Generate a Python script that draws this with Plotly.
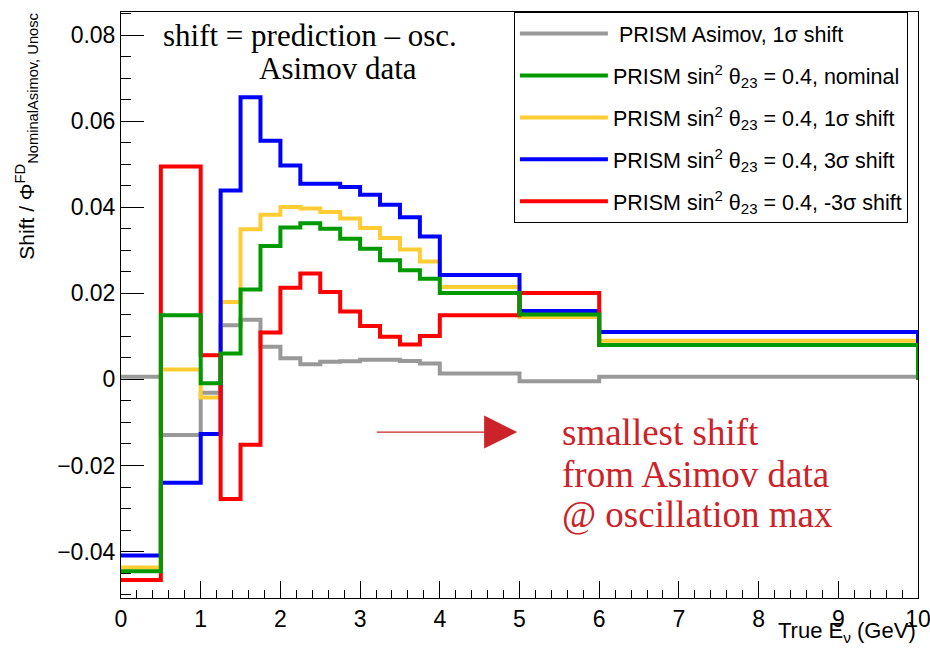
import plotly.graph_objects as go

# ---------------- data ----------------
bin_edges = [0.0, 0.5, 1.0, 1.25, 1.5, 1.75, 2.0, 2.25, 2.5, 2.75, 3.0,
             3.25, 3.5, 3.75, 4.0, 5.0, 6.0, 10.0]

asimov_1sigma = [0.0006, -0.0129, -0.0031, 0.0126, 0.0139, 0.0076, 0.0049, 0.0035,
                 0.0041, 0.0042, 0.0046, 0.0046, 0.0043, 0.0037, 0.0014, -0.0004, 0.0006]
s23_nominal = [-0.0446, 0.0149, -0.0009, 0.0060, 0.0209, 0.0310, 0.0353, 0.0363,
               0.0350, 0.0327, 0.0304, 0.0277, 0.0254, 0.0234, 0.0201, 0.0151, 0.0080]
s23_1sigma = [-0.0437, 0.0023, -0.0042, 0.0180, 0.0349, 0.0383, 0.0401, 0.0397,
              0.0389, 0.0374, 0.0352, 0.0329, 0.0302, 0.0274, 0.0215, 0.0145, 0.0090]
s23_3sigma = [-0.0409, -0.0240, -0.0127, 0.0439, 0.0656, 0.0555, 0.0497, 0.0455,
              0.0455, 0.0447, 0.0429, 0.0406, 0.0377, 0.0332, 0.0243, 0.0159, 0.0110]
s23_m3sigma = [-0.0466, 0.0495, 0.0056, -0.0278, -0.0152, 0.0109, 0.0213, 0.0246,
               0.0203, 0.0158, 0.0124, 0.0099, 0.0081, 0.0101, 0.0149, 0.0201, 0.0080]

series_names = [
    " PRISM Asimov, 1σ shift",
    "PRISM sin<sup>2</sup> θ<sub>23</sub> = 0.4, nominal",
    "PRISM sin<sup>2</sup> θ<sub>23</sub> = 0.4, 1σ shift",
    "PRISM sin<sup>2</sup> θ<sub>23</sub> = 0.4, 3σ shift",
    "PRISM sin<sup>2</sup> θ<sub>23</sub> = 0.4, -3σ shift",
]
series_values = [asimov_1sigma, s23_nominal, s23_1sigma, s23_3sigma, s23_m3sigma]
series_colors = ["#999999", "#009900", "#ffcc33", "#0000ff", "#ff0000"]
# drawing order (bottom -> top), legend keeps the listing order above
draw_order = [0, 2, 3, 4, 1]

x_ticks = list(range(0, 11))
y_ticks = [-0.04, -0.02, 0.0, 0.02, 0.04, 0.06, 0.08]

# ---------------- figure ----------------
fig = go.Figure()
for idx in draw_order:
    vals = series_values[idx]
    xs = list(bin_edges) + [bin_edges[-1]]
    ys = list(vals) + [vals[-1], 0.0]
    fig.add_trace(go.Scatter(
        x=xs, y=ys, mode="lines", line=dict(shape="hv", color=series_colors[idx], width=4),
        name=series_names[idx], legendrank=idx + 1, legendgroup=f"g{idx}",
        hoverinfo="skip"))

FONT = "Liberation Sans, Arial, sans-serif"
SERIF = "Liberation Serif, Times New Roman, serif"

fig.update_layout(
    width=930, height=648,
    margin=dict(l=121, r=12, t=12, b=50, autoexpand=False),
    paper_bgcolor="white", plot_bgcolor="white",
    font=dict(family=FONT, size=22, color="black"),
    showlegend=True,
    legend=dict(
        x=0.493, y=1.0, xanchor="left", yanchor="top",
        bordercolor="black", borderwidth=1, bgcolor="white",
        font=dict(family=FONT, size=21.5, color="black"),
        tracegroupgap=11, itemwidth=88, traceorder="grouped",
    ),
)

fig.update_xaxes(
    range=[0, 10], tickvals=x_ticks, ticks="inside", ticklen=17, tickwidth=1,
    tickcolor="black", showline=True, linecolor="black", linewidth=1, mirror=True,
    showgrid=False, zeroline=False, tickfont=dict(family=FONT, size=23),
    ticklabeloverflow="allow", automargin=False,
    minor=dict(dtick=0.2, ticks="inside", ticklen=8, tickcolor="black", showgrid=False),
)
fig.update_yaxes(
    range=[-0.0508, 0.0854], tickvals=y_ticks, ticks="inside", ticklen=23, tickwidth=1,
    tickcolor="black", showline=True, linecolor="black", linewidth=1, mirror=True,
    showgrid=False, zeroline=False, tickfont=dict(family=FONT, size=23), automargin=False,
    minor=dict(dtick=0.005, ticks="inside", ticklen=10, tickcolor="black", showgrid=False),
)

# axis titles
fig.add_annotation(
    xref="paper", yref="paper", x=1.0, y=-0.0853, xanchor="right", yanchor="bottom",
    text="True E<sub>ν</sub> (GeV)", showarrow=False,
    font=dict(family=FONT, size=22, color="black"))
fig.add_annotation(
    xref="paper", yref="paper", x=-0.118, y=1.003, xanchor="center", yanchor="top",
    text="Shift / Φ<sup>FD</sup><sub>NominalAsimov, Unosc</sub>", textangle=-90,
    showarrow=False, font=dict(family=FONT, size=21, color="black"))

# text labels
fig.add_annotation(x=0.50, y=0.0800, xanchor="left", yanchor="middle",
                   text="shift = prediction – osc.", showarrow=False,
                   font=dict(family=SERIF, size=31, color="black"))
fig.add_annotation(x=1.706, y=0.0723, xanchor="left", yanchor="middle",
                   text="Asimov data", showarrow=False,
                   font=dict(family=SERIF, size=31, color="black"))

RED = "#cc2229"
for txt, yy in [("smallest shift", -0.01224), ("from Asimov data", -0.02200),
                ("@ oscillation max", -0.03150)]:
    fig.add_annotation(x=5.51, y=yy, xanchor="left", yanchor="middle", text=txt,
                       showarrow=False, font=dict(family=SERIF, size=37, color=RED))

fig.add_annotation(x=4.97, y=-0.01224, ax=3.19, ay=-0.01224, axref="x", ayref="y",
                   text="", showarrow=True, arrowhead=2, arrowsize=5.5, arrowwidth=1.2,
                   arrowcolor=RED, standoff=0)

fig.write_html("out.html")
